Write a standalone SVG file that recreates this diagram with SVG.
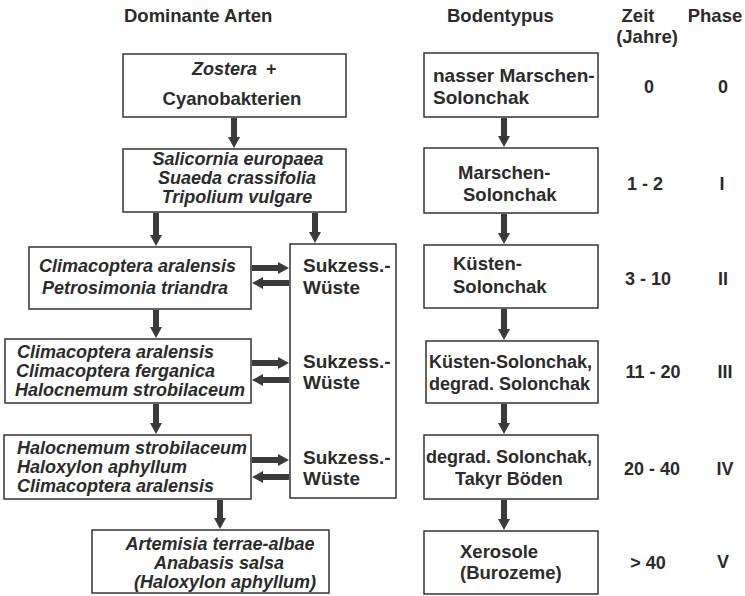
<svg xmlns="http://www.w3.org/2000/svg" width="745" height="596" viewBox="0 0 745 596">
<defs>
<style>
.box{fill:#fff;stroke:#333;stroke-width:1.5}
.t{font-family:"Liberation Sans",Arial,sans-serif;font-weight:bold;fill:#2b2b2b;font-size:18px}
.i{font-style:italic}
.h{font-size:18.5px}
.b{font-size:19px}
.c{text-anchor:middle}
.ar{stroke:#3a3a3a;stroke-width:6;fill:none;marker-end:url(#ah)}
</style>
<marker id="ah" markerUnits="userSpaceOnUse" markerWidth="12" markerHeight="12" refX="1" refY="6" orient="auto">
<path d="M0,0 L11,6 L0,12 z" fill="#3a3a3a"/>
</marker>
</defs>
<rect width="745" height="596" fill="#fff"/>

<g id="headers">
<text class="t h" x="124" y="22">Dominante Arten</text>
<text class="t h" x="447" y="22">Bodentypus</text>
<text class="t h c" x="638" y="22">Zeit</text>
<text class="t h c" x="647" y="43">(Jahre)</text>
<text class="t h c" x="715" y="22">Phase</text>
</g>

<g id="L1"><rect class="box" x="123" y="54" width="223" height="63"/>
<text class="t i" x="192" y="75">Zostera</text><text class="t" x="266" y="75">+</text>
<text class="t c h" x="232" y="105">Cyanobakterien</text></g>

<g id="L2"><rect class="box" x="123" y="149" width="223" height="63"/>
<text class="t i c" x="238" y="165">Salicornia europaea</text>
<text class="t i c" x="237" y="184">Suaeda crassifolia</text>
<text class="t i c" x="237" y="203">Tripolium vulgare</text></g>

<g id="L3"><rect class="box" x="29" y="247" width="222" height="62"/>
<text class="t i" x="39" y="272">Climacoptera aralensis</text>
<text class="t i" x="42" y="294">Petrosimonia triandra</text></g>

<g id="L4"><rect class="box" x="5" y="339" width="246" height="64"/>
<text class="t i" x="17" y="358">Climacoptera aralensis</text>
<text class="t i" x="16" y="377">Climacoptera ferganica</text>
<text class="t i" x="15" y="396">Halocnemum strobilaceum</text></g>

<g id="L5"><rect class="box" x="4" y="435" width="247" height="64"/>
<text class="t i" x="17" y="454">Halocnemum strobilaceum</text>
<text class="t i" x="17" y="473">Haloxylon aphyllum</text>
<text class="t i" x="17" y="492">Climacoptera aralensis</text></g>

<g id="L6"><rect class="box" x="92" y="530" width="237" height="63"/>
<text class="t i c" x="220" y="550">Artemisia terrae-albae</text>
<text class="t i c" x="219" y="569">Anabasis salsa</text>
<text class="t i c" x="225" y="588">(Haloxylon aphyllum)</text></g>

<g id="W"><rect class="box" x="290" y="244" width="106" height="254"/>
<text class="t b" x="303" y="272">Sukzess.-</text><text class="t b" x="303" y="294">Wüste</text>
<text class="t b" x="303" y="368">Sukzess.-</text><text class="t b" x="303" y="389">Wüste</text>
<text class="t b" x="303" y="464">Sukzess.-</text><text class="t b" x="303" y="485">Wüste</text></g>

<g id="S1"><rect class="box" x="424" y="53" width="174" height="64"/>
<text class="t b" x="433" y="82">nasser Marschen-</text>
<text class="t b" x="433" y="104">Solonchak</text></g>
<g id="S2"><rect class="box" x="424" y="148" width="174" height="65"/>
<text class="t h" x="458" y="179">Marschen-</text>
<text class="t h" x="463" y="201">Solonchak</text></g>
<g id="S3"><rect class="box" x="424" y="245" width="174" height="63"/>
<text class="t h" x="453" y="270">Küsten-</text>
<text class="t h" x="453" y="293">Solonchak</text></g>
<g id="S4"><rect class="box" x="426" y="341" width="172" height="62"/>
<text class="t" x="429" y="368">Küsten-Solonchak,</text>
<text class="t" x="429" y="390">degrad. Solonchak</text></g>
<g id="S5"><rect class="box" x="424" y="435" width="174" height="64"/>
<text class="t" x="426" y="463">degrad. Solonchak,</text>
<text class="t" x="455" y="485">Takyr Böden</text></g>
<g id="S6"><rect class="box" x="424" y="531" width="174" height="63"/>
<text class="t h" x="460" y="558">Xerosole</text>
<text class="t h" x="460" y="579">(Burozeme)</text></g>

<g id="zeit">
<text class="t c" x="649" y="93">0</text>
<text class="t c" x="645" y="190">1 - 2</text>
<text class="t c" x="648" y="285">3 - 10</text>
<text class="t c" x="653" y="378">11 - 20</text>
<text class="t c" x="652" y="475">20 - 40</text>
<text class="t c" x="648" y="569">&gt; 40</text>
</g>
<g id="phase">
<text class="t c" x="723" y="93">0</text>
<text class="t c" x="722" y="190">I</text>
<text class="t c" x="723" y="285">II</text>
<text class="t c" x="725" y="378">III</text>
<text class="t c" x="725" y="475">IV</text>
<text class="t c" x="723" y="568">V</text>
</g>

<g id="connectors">
<line class="ar" x1="234" y1="118" x2="234" y2="138"/>
<line class="ar" x1="156" y1="213" x2="156" y2="236"/>
<line class="ar" x1="315" y1="213" x2="315" y2="233"/>
<line class="ar" x1="156" y1="310" x2="156" y2="328"/>
<line class="ar" x1="156" y1="404" x2="156" y2="424"/>
<line class="ar" x1="220" y1="500" x2="220" y2="519"/>
<line class="ar" x1="504" y1="118" x2="504" y2="137"/>
<line class="ar" x1="504" y1="214" x2="504" y2="234"/>
<line class="ar" x1="504" y1="309" x2="504" y2="330"/>
<line class="ar" x1="504" y1="404" x2="504" y2="424"/>
<line class="ar" x1="504" y1="500" x2="504" y2="520"/>
<line class="ar" x1="252" y1="268" x2="279" y2="268"/>
<line class="ar" x1="289" y1="283" x2="262" y2="283"/>
<line class="ar" x1="252" y1="363" x2="279" y2="363"/>
<line class="ar" x1="289" y1="380" x2="262" y2="380"/>
<line class="ar" x1="252" y1="460" x2="279" y2="460"/>
<line class="ar" x1="289" y1="477" x2="262" y2="477"/>
</g>
</svg>
